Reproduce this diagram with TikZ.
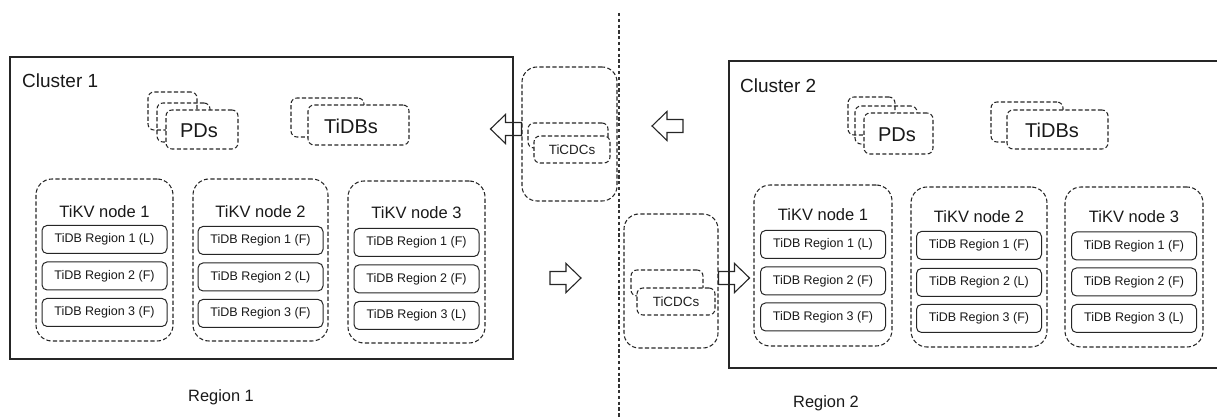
\documentclass[tikz,border=0pt]{standalone}
\usepackage{fontspec}
\setmainfont{Liberation Sans}
\usetikzlibrary{calc}
\begin{document}
\begin{tikzpicture}[x=1pt,y=-1pt,
  line/.style={draw=black!85,line width=1pt},
  clusterline/.style={draw=black!85,line width=1.1pt},
  dbox/.style={draw=black!85,line width=1.05pt,dash pattern=on 4.2pt off 2.3pt,rounded corners=6pt,inner sep=0pt},
  dboxw/.style={dbox,fill=white},
  kvbox/.style={dbox,rounded corners=16pt},
  cdcbox/.style={dbox,rounded corners=15pt},
  regbox/.style={line,rounded corners=5pt,fill=white,inner sep=0pt,
    minimum width=125pt,minimum height=28pt,font=\fontsize{12.5}{14}\selectfont,text=black!90},
  big/.style={font=\fontsize{20}{22}\selectfont,text=black!90},
  title/.style={font=\fontsize{16.5}{18}\selectfont,text=black!90,inner sep=0pt},
  lbl/.style={font=\fontsize{19}{21}\selectfont,text=black!90,inner sep=0pt},
  small/.style={font=\fontsize{13.4}{15}\selectfont,text=black!88},
  blockarr/.pic={\draw[line,line width=1.1pt] (0,-6.5) -- (16,-6.5) -- (16,-14.5) -- (31,0) -- (16,14.5) -- (16,6.5) -- (0,6.5) -- cycle;}
]
\useasboundingbox (0,0) rectangle (1217,419);

% divider
\coordinate (dtop) at (619,13);
\coordinate (dbot) at (619,419);
\draw[draw=black!80,line width=1.1pt,dash pattern=on 3.3pt off 2.5pt] (dtop) -- (dbot);

% ---------- Cluster 1 ----------
\node[clusterline,minimum width=503pt,minimum height=302pt,inner sep=0pt] (cl1) at (261.5,208) {};
\node[lbl,anchor=west] (cl1lbl) at (22,81) {Cluster 1};

\node[dbox,minimum width=49pt,minimum height=38pt] (pa1) at (172.5,111) {};
\node[dbox,minimum width=53pt,minimum height=39pt] (pa2) at (183.5,122.5) {};
\node[dboxw,minimum width=72pt,minimum height=39pt] (pa3) at (202,129.5) {};
\node[big] (pdsa) at (199,131) {PDs};

\node[dbox,minimum width=73pt,minimum height=39pt] (ta1) at (327.5,117.5) {};
\node[dboxw,minimum width=101pt,minimum height=40pt] (ta2) at (358.5,125) {};
\node[big] (tidbsa) at (351,126) {TiDBs};

\node[kvbox,minimum width=137pt,minimum height=162pt] (k11) at (104.5,260) {};
\node[kvbox,minimum width=135pt,minimum height=162pt] (k12) at (260.5,260) {};
\node[kvbox,minimum width=137pt,minimum height=162pt] (k13) at (416.5,262) {};

\node[title] at ($(k11.north)+(0,33)$) {TiKV node 1};
\node[title] at ($(k12.north)+(0,33)$) {TiKV node 2};
\node[title] at ($(k13.north)+(0,32)$) {TiKV node 3};

\node[regbox] (r111) at ($(k11.north)+(0,61)$) {TiDB Region 1 (L)};
\node[regbox] (r112) at ($(k11.north)+(0,97.5)$) {TiDB Region 2 (F)};
\node[regbox] (r113) at ($(k11.north)+(0,134)$) {TiDB Region 3 (F)};
\node[regbox] (r121) at ($(k12.north)+(0,62)$) {TiDB Region 1 (F)};
\node[regbox] (r122) at ($(k12.north)+(0,98.5)$) {TiDB Region 2 (L)};
\node[regbox] (r123) at ($(k12.north)+(0,135)$) {TiDB Region 3 (F)};
\node[regbox] (r131) at ($(k13.north)+(0,62)$) {TiDB Region 1 (F)};
\node[regbox] (r132) at ($(k13.north)+(0,98.5)$) {TiDB Region 2 (F)};
\node[regbox] (r133) at ($(k13.north)+(0,135)$) {TiDB Region 3 (L)};

\node[title,font=\fontsize{16.4}{18}\selectfont] (reg1) at (221,397) {Region 1};

% ---------- TiCDC groups ----------
\node[cdcbox,minimum width=95pt,minimum height=134pt] (cdc1) at (569.5,134) {};
\node[dbox,minimum width=80pt,minimum height=25pt] (cdc1b) at (568,135.5) {};
\node[dboxw,minimum width=76pt,minimum height=27pt,small] (cdc1f) at (572,149.5) {TiCDCs};

\node[cdcbox,minimum width=94pt,minimum height=134pt] (cdc2) at (671,281) {};
\node[dbox,minimum width=72pt,minimum height=26pt] (cdc2b) at (667,283) {};
\node[dboxw,minimum width=78pt,minimum height=27pt,small] (cdc2f) at (676,301.5) {TiCDCs};

% ---------- Cluster 2 ----------
\coordinate (c2tr) at (1217,61);
\coordinate (c2tl) at (729,61);
\coordinate (c2bl) at (729,368);
\coordinate (c2br) at (1217,368);
\draw[clusterline] (c2tr) -- (c2tl) -- (c2bl) -- (c2br);
\node[lbl,anchor=west] (cl2lbl) at (740,86) {Cluster 2};

\node[dbox,minimum width=47pt,minimum height=38pt] (pb1) at (871.5,116) {};
\node[dbox,minimum width=62pt,minimum height=38pt] (pb2) at (886,125) {};
\node[dboxw,minimum width=69pt,minimum height=41pt] (pb3) at (898.5,133.5) {};
\node[big] (pdsb) at (897,135) {PDs};

\node[dbox,minimum width=72pt,minimum height=40pt] (tb1) at (1027,122) {};
\node[dboxw,minimum width=101pt,minimum height=39pt] (tb2) at (1057.5,129.5) {};
\node[big] (tidbsb) at (1052,130) {TiDBs};

\node[kvbox,minimum width=138pt,minimum height=161pt] (k21) at (823,265.5) {};
\node[kvbox,minimum width=136pt,minimum height=160pt] (k22) at (979,267) {};
\node[kvbox,minimum width=138pt,minimum height=160pt] (k23) at (1134,267) {};

\node[title] at ($(k21.north)+(0,30)$) {TiKV node 1};
\node[title] at ($(k22.north)+(0,30)$) {TiKV node 2};
\node[title] at ($(k23.north)+(0,30)$) {TiKV node 3};

\node[regbox] (r211) at ($(k21.north)+(0,60)$) {TiDB Region 1 (L)};
\node[regbox] (r212) at ($(k21.north)+(0,96.5)$) {TiDB Region 2 (F)};
\node[regbox] (r213) at ($(k21.north)+(0,132.5)$) {TiDB Region 3 (F)};
\node[regbox] (r221) at ($(k22.north)+(0,59)$) {TiDB Region 1 (F)};
\node[regbox] (r222) at ($(k22.north)+(0,96)$) {TiDB Region 2 (L)};
\node[regbox] (r223) at ($(k22.north)+(0,132)$) {TiDB Region 3 (F)};
\node[regbox] (r231) at ($(k23.north)+(0,59.5)$) {TiDB Region 1 (F)};
\node[regbox] (r232) at ($(k23.north)+(0,95.5)$) {TiDB Region 2 (F)};
\node[regbox] (r233) at ($(k23.north)+(0,132)$) {TiDB Region 3 (L)};

\node[title,font=\fontsize{16.4}{18}\selectfont] (reg2) at (826,403) {Region 2};

% ---------- block arrows ----------
\pic[rotate=180] at (cdc1.west |- 0,129) {blockarr};
\pic[rotate=180] at (683,126) {blockarr};
\pic at (550,278) {blockarr};
\pic at (cdc2.east |- 0,278) {blockarr};
\end{tikzpicture}
\end{document}
